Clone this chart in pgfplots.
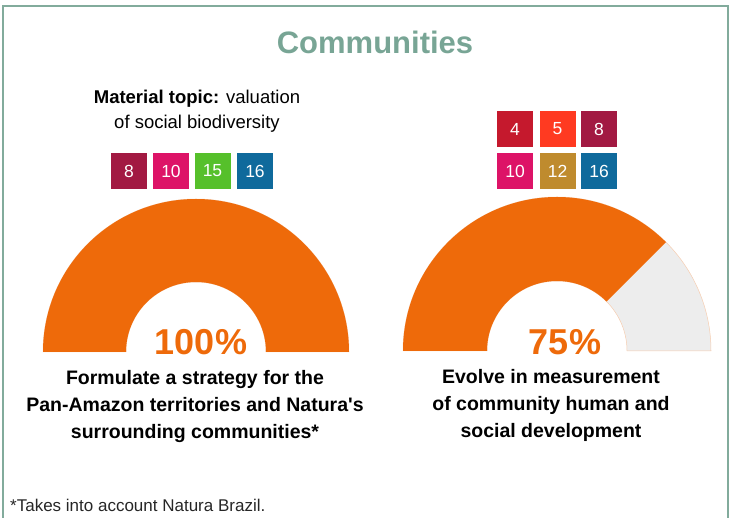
\documentclass[border=0pt]{standalone}
\usepackage{pgfplots}
\pgfplotsset{compat=1.18}
\usepackage{fontspec}
\setmainfont{Liberation Sans}
\definecolor{frame}{HTML}{82AB9C}
\definecolor{ttl}{HTML}{78A595}
\definecolor{gorange}{HTML}{EE6A0A}
\definecolor{ggray}{HTML}{EDEDED}
\definecolor{gedge}{HTML}{F6CDB0}
\definecolor{sdgfour}{HTML}{C5192D}
\definecolor{sdgfive}{HTML}{FF3A21}
\definecolor{sdgeight}{HTML}{A21942}
\definecolor{sdgten}{HTML}{DD1367}
\definecolor{sdgtwelve}{HTML}{BF8B2E}
\definecolor{sdgfifteen}{HTML}{56C02B}
\definecolor{sdgsixteen}{HTML}{0F6A9C}
\newcommand{\fs}[1]{\fontsize{#1}{#1}\selectfont}
\begin{document}
\begin{tikzpicture}
\begin{axis}[width=731pt,height=518pt,scale only axis,
  xmin=0,xmax=731,ymin=0,ymax=518,axis lines=none,ticks=none,clip=false]
\addplot[draw=none] coordinates {(0,0) (731,518)};
% frame
\draw[frame,line width=2pt] (axis cs:3,0) -- (axis cs:3,512) -- (axis cs:728,512) -- (axis cs:728,0);
% title
\node[anchor=base,text=ttl,font=\bfseries\fs{31}] at (axis cs:375,464) {Communities};
% material topic
\node[anchor=base,font=\fs{18.5}] at (axis cs:197,414) {\textbf{Material topic:} valuation};
\node[anchor=base,font=\fs{18.5}] at (axis cs:197,389) {of social biodiversity};
% SDG squares
\tikzset{sdg/.style={minimum width=36pt,minimum height=36pt,inner sep=0pt,text=white,font=\fs{17.5}}}
\node[sdg,fill=sdgeight]   at (axis cs:129,347) {8};
\node[sdg,fill=sdgten]     at (axis cs:171,347) {10};
\node[sdg,fill=sdgfifteen] at (axis cs:212.5,347) {15};
\node[sdg,fill=sdgsixteen] at (axis cs:255,347) {16};
\node[sdg,fill=sdgfour]    at (axis cs:515,389) {4};
\node[sdg,fill=sdgfive]    at (axis cs:557.5,389) {5};
\node[sdg,fill=sdgeight]   at (axis cs:599,389) {8};
\node[sdg,fill=sdgten]     at (axis cs:515,347) {10};
\node[sdg,fill=sdgtwelve]  at (axis cs:557.5,347) {12};
\node[sdg,fill=sdgsixteen] at (axis cs:599,347) {16};
% gauge 1: value 100
\pgfmathsetmacro{\angA}{180-1.8*100}
\fill[ggray,draw=gedge,line width=0.5pt] (axis cs:43,166) arc[start angle=180,end angle=0,radius=153pt]
  -- (axis cs:266,166) arc[start angle=0,end angle=180,radius=70pt] -- cycle;
\fill[gorange] (axis cs:43,166) arc[start angle=180,end angle=\angA,radius=153pt]
  -- ([shift={(axis cs:196,166)}]\angA:70pt) arc[start angle=\angA,end angle=180,radius=70pt] -- cycle;
% gauge 2: value 75
\pgfmathsetmacro{\angB}{180-1.8*75}
\fill[ggray,draw=gedge,line width=0.5pt] (axis cs:403,167) arc[start angle=180,end angle=0,radius=154pt]
  -- (axis cs:627,167) arc[start angle=0,end angle=180,radius=70pt] -- cycle;
\fill[gorange] (axis cs:403,167) arc[start angle=180,end angle=\angB,radius=154pt]
  -- ([shift={(axis cs:557,167)}]\angB:70pt) arc[start angle=\angB,end angle=180,radius=70pt] -- cycle;
% percentages
\node[anchor=base,text=gorange,font=\bfseries\fs{36}] at (axis cs:201,163) {100\%};
\node[anchor=base,text=gorange,font=\bfseries\fs{36}] at (axis cs:565,163) {75\%};
% descriptions
\node[anchor=base,font=\bfseries\fs{19.5}] at (axis cs:195,133) {Formulate a strategy for the};
\node[anchor=base,font=\bfseries\fs{19.5}] at (axis cs:195,106) {Pan-Amazon territories and Natura\textquotesingle s};
\node[anchor=base,font=\bfseries\fs{19.5}] at (axis cs:195,79) {surrounding communities*};
\node[anchor=base,font=\bfseries\fs{19.5}] at (axis cs:551,134) {Evolve in measurement};
\node[anchor=base,font=\bfseries\fs{19.5}] at (axis cs:551,107) {of community human and};
\node[anchor=base,font=\bfseries\fs{19.5}] at (axis cs:551,80) {social development};
% footnote
\node[anchor=base west,inner sep=0pt,text=black!85,font=\fs{17}] at (axis cs:10,6) {*Takes into account Natura Brazil.};
\end{axis}
\end{tikzpicture}
\end{document}
